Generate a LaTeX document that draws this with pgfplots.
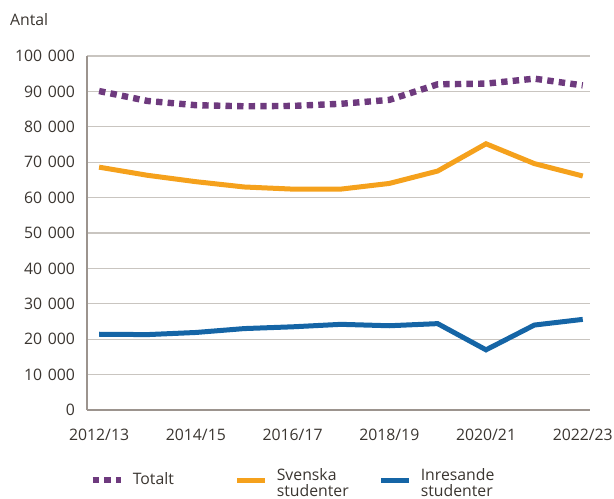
\documentclass[border=0pt]{standalone}
\usepackage{fontspec}
\setmainfont{Open Sans}
\usepackage{pgfplots}
\pgfplotsset{compat=1.18}
\definecolor{cpurple}{HTML}{6E3A7E}
\definecolor{corange}{HTML}{F5A11C}
\definecolor{cblue}{HTML}{1565A6}
\definecolor{cgrid}{HTML}{C9C5C0}
\definecolor{caxis}{HTML}{9C948E}
\definecolor{ctext}{HTML}{3A3530}
\newcommand{\twoline}[2]{{\renewcommand{\arraystretch}{0.82}\begin{tabular}{@{}l@{}}#1\\#2\end{tabular}}}
\begin{document}
\begin{tikzpicture}
\path[use as bounding box] (-43.5pt,-44pt) rectangle (263.5pt,205pt);
\begin{axis}[
  at={(0,0)}, anchor=south west,
  scale only axis, width=251.5pt, height=177pt,
  xmin=-0.25, xmax=10.15, ymin=0, ymax=100000,
  xtick={0,2,4,6,8,10},
  xticklabels={2012/13,2014/15,2016/17,2018/19,2020/21,2022/23},
  ytick={0,10000,20000,30000,40000,50000,60000,70000,80000,90000,100000},
  scaled y ticks=false,
  /pgf/number format/fixed,
  /pgf/number format/precision=0,
  /pgf/number format/1000 sep={\hspace{0.36em}},
  /pgf/number format/assume math mode=true,
  tick style={draw=none},
  axis lines*=left,
  axis line style={draw=caxis, line width=0.9pt},
  ymajorgrids, grid style={draw=cgrid, line width=0.6pt},
  font=\fontsize{7.9pt}{9pt}\selectfont,
  tick label style={text=ctext},
  yticklabel style={xshift=-2.5pt},
  xticklabel style={yshift=-6pt},
  legend columns=3,
  legend style={draw=none, fill=none, at={(0,0)}, anchor=north west, xshift=-2pt, yshift=-25pt,
    cells={anchor=west}, font=\fontsize{7.9pt}{9pt}\selectfont, text=ctext,
    /tikz/every even column/.append style={column sep=0pt}},
  legend image code/.code={\draw[#1] (0pt,0pt) -- (14pt,0pt); \path (16.5pt,0pt);},
  clip=false,
]
\node[anchor=west, text=ctext, font=\fontsize{7.9pt}{9pt}\selectfont] at (axis description cs:0,1) [xshift=-42pt, yshift=18pt] {Antal};
\addplot[cpurple, line width=3.2pt, dash pattern=on 3.2pt off 2.6pt] coordinates {
(0,90100) (1,87300) (2,86100) (3,85800) (4,85900) (5,86500) (6,87600) (7,92000) (8,92200) (9,93600) (10,91700)};
\addlegendentry{\makebox[49pt][l]{Totalt}}
\addplot[corange, line width=2.5pt] coordinates {
(0,68600) (1,66300) (2,64500) (3,63000) (4,62400) (5,62400) (6,64000) (7,67500) (8,75200) (9,69600) (10,66100)};
\addlegendentry{\makebox[49pt][l]{\twoline{Svenska}{studenter}}}
\addplot[cblue, line width=2.5pt] coordinates {
(0,21400) (1,21300) (2,21900) (3,23000) (4,23500) (5,24200) (6,23800) (7,24400) (8,17000) (9,24000) (10,25600)};
\addlegendentry{\makebox[49pt][l]{\twoline{Inresande}{studenter}}}
\end{axis}
\end{tikzpicture}
\end{document}
